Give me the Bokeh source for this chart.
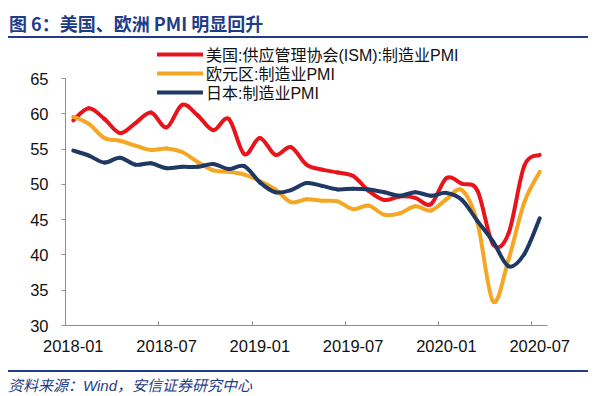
from bokeh.plotting import figure
from bokeh.models import (FixedTicker, Legend, LegendItem, Div, ColumnDataSource)
from bokeh.layouts import column
from bokeh.embed import file_html
from bokeh.resources import INLINE

# ---------------- data ----------------
months = ["2018-01", "2018-02", "2018-03", "2018-04", "2018-05", "2018-06",
          "2018-07", "2018-08", "2018-09", "2018-10", "2018-11", "2018-12",
          "2019-01", "2019-02", "2019-03", "2019-04", "2019-05", "2019-06",
          "2019-07", "2019-08", "2019-09", "2019-10", "2019-11", "2019-12",
          "2020-01", "2020-02", "2020-03", "2020-04", "2020-05", "2020-06",
          "2020-07"]
us_ism = [59.1, 60.8, 59.3, 57.3, 58.7, 60.2, 58.1, 61.3, 59.8, 57.7, 59.3, 54.3,
          56.6, 54.2, 55.3, 52.8, 52.1, 51.7, 51.2, 49.1, 47.8, 48.3, 48.1, 47.2,
          50.9, 50.1, 49.1, 41.5, 43.1, 52.6, 54.2]
euro_pmi = [59.6, 58.6, 56.6, 56.2, 55.5, 54.9, 55.1, 54.6, 53.2, 52.0, 51.8, 51.4,
            50.5, 49.3, 47.5, 47.9, 47.7, 47.6, 46.5, 47.0, 45.7, 45.9, 46.9, 46.3,
            47.9, 49.2, 44.5, 33.4, 39.4, 47.4, 51.8]
japan_pmi = [54.8, 54.1, 53.1, 53.8, 52.8, 53.0, 52.3, 52.5, 52.5, 52.9, 52.2, 52.6,
             50.3, 48.9, 49.2, 50.2, 49.8, 49.3, 49.4, 49.3, 48.9, 48.4, 48.9, 48.4,
             48.8, 47.8, 44.8, 41.9, 38.4, 40.1, 45.2]
series_names = ["美国:供应管理协会(ISM):制造业PMI", "欧元区:制造业PMI", "日本:制造业PMI"]
tick_labels = ["2018-01", "2018-07", "2019-01", "2019-07", "2020-01", "2020-07"]
y_ticks = [30, 35, 40, 45, 50, 55, 60, 65]
title_text = "图 6：美国、欧洲 PMI 明显回升"
source_text = "资料来源：Wind，安信证券研究中心"

# ---------------- style ----------------
colors = ["#E8141B", "#F5A623", "#1F3864"]
navy = "#1F3C88"
axis_gray = "#8C8C8C"
latin_cjk = "Liberation Sans, Noto Sans CJK SC"
legend_rows_vy = [259, 240, 221]   # bottom of each legend row, px above frame bottom

W = 600
TITLE_H, FIG_H, FOOT_H = 38, 332, 26

title_div = Div(
    text=('<div style="margin:0 0 0 8px;width:580px;height:38px;box-sizing:border-box;'
          'padding:12px 0 0 1px;border-bottom:2px solid %s;color:%s;'
          'font-family:\'Noto Sans CJK SC\',sans-serif;font-weight:bold;font-size:18px;'
          'line-height:22px;white-space:nowrap;">%s</div>') % (navy, navy, title_text),
    width=W, height=TITLE_H, margin=(0, 0, 0, 0))

footer_div = Div(
    text=('<div style="margin:0 0 0 8px;width:580px;height:26px;box-sizing:border-box;'
          'padding:4px 0 0 0;border-top:2px solid %s;color:%s;'
          'font-family:\'Liberation Sans\',\'Noto Sans CJK SC\',sans-serif;font-style:italic;'
          'font-size:15px;line-height:20px;white-space:nowrap;">%s</div>') % (navy, navy, source_text),
    width=W, height=FOOT_H, margin=(0, 0, 0, 0))

p = figure(width=W, height=FIG_H, output_backend="svg", toolbar_location=None,
           x_range=(0, len(months)), y_range=(30, 70.7),
           min_border_left=65, min_border_right=53,
           min_border_top=0, min_border_bottom=45, margin=(0, 0, 0, 0))
p.title.visible = False
p.xgrid.visible = False
p.ygrid.visible = False
p.outline_line_color = None
p.background_fill_color = "white"
p.border_fill_color = "white"


def smooth_segments(vals):
    n = len(vals)
    xs = [i + 0.5 for i in range(n)]
    d = dict(x0=[], y0=[], x1=[], y1=[], cx0=[], cy0=[], cx1=[], cy1=[])
    for i in range(n - 1):
        im1 = max(i - 1, 0)
        ip2 = min(i + 2, n - 1)
        d["x0"].append(xs[i]); d["y0"].append(vals[i])
        d["x1"].append(xs[i + 1]); d["y1"].append(vals[i + 1])
        d["cx0"].append(xs[i] + (xs[i + 1] - xs[im1]) / 6.0)
        d["cy0"].append(vals[i] + (vals[i + 1] - vals[im1]) / 6.0)
        d["cx1"].append(xs[i + 1] - (xs[ip2] - xs[i]) / 6.0)
        d["cy1"].append(vals[i + 1] - (vals[ip2] - vals[i]) / 6.0)
    return ColumnDataSource(d)


renderers = []
for vals, col in zip([us_ism, euro_pmi, japan_pmi], colors):
    r = p.bezier(x0="x0", y0="y0", x1="x1", y1="y1", cx0="cx0", cy0="cy0",
                 cx1="cx1", cy1="cy1", source=smooth_segments(vals),
                 line_color=col, line_width=4, line_cap="round", line_join="round")
    renderers.append(r)

# ---------------- axes ----------------
label_pos = [months.index(t) + 0.5 for t in tick_labels]
bound_pos = [months.index(t) for t in tick_labels]
xax = p.xaxis[0]
xax.ticker = FixedTicker(ticks=label_pos, minor_ticks=bound_pos)
xax.major_label_overrides = {pos: lab for pos, lab in zip(label_pos, tick_labels)}
xax.major_tick_line_color = None
xax.major_tick_in = 0
xax.major_tick_out = 0
xax.minor_tick_in = 4
xax.minor_tick_out = 0
xax.minor_tick_line_color = axis_gray
xax.axis_line_color = axis_gray
xax.major_label_standoff = 14
xax.major_label_text_font = "Liberation Sans"
xax.major_label_text_font_size = "16.5px"
xax.major_label_text_color = "#111111"

yax = p.yaxis[0]
yax.ticker = FixedTicker(ticks=y_ticks)
yax.bounds = (30, 65)
yax.major_tick_in = 0
yax.major_tick_out = 4
yax.minor_tick_line_color = None
yax.major_tick_line_color = axis_gray
yax.axis_line_color = axis_gray
yax.major_label_standoff = 13
yax.major_label_text_font = "Liberation Sans"
yax.major_label_text_font_size = "16.5px"
yax.major_label_text_color = "#111111"

# ---------------- legend (one row per legend for tight spacing) ----------------
for name, r, vy in zip(series_names, renderers, legend_rows_vy):
    lg = Legend(items=[LegendItem(label=name, renderers=[r])],
                location=(92, vy), orientation="vertical",
                glyph_width=46, glyph_height=18, label_height=18, spacing=0,
                padding=0, margin=0, label_standoff=3,
                border_line_color=None, background_fill_alpha=0,
                label_text_font=latin_cjk, label_text_font_size="16px",
                label_text_color="#111111")
    p.add_layout(lg)

layout = column(title_div, p, footer_div, spacing=0, margin=(0, 0, 0, 0))
open("out.html", "w").write(file_html(layout, INLINE))
